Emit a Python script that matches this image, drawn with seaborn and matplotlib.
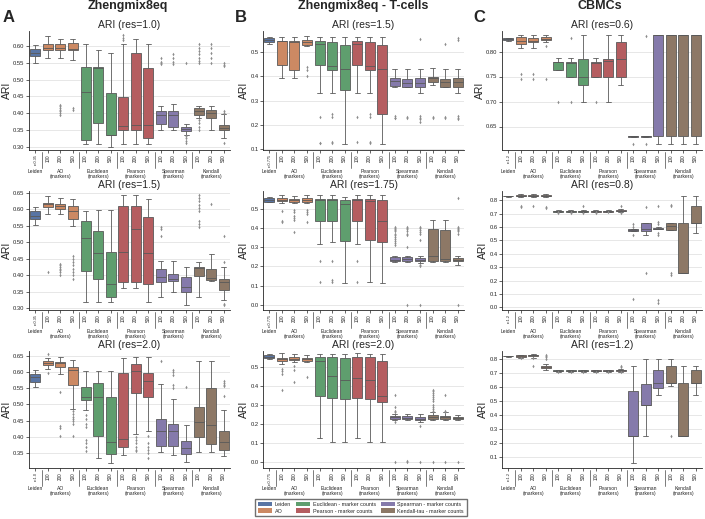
import matplotlib
matplotlib.use('Agg')
import matplotlib.pyplot as plt
from matplotlib.patches import Patch
from matplotlib.ticker import MultipleLocator
import seaborn as sns
import pandas as pd

# box order inside each panel
methods = ['Leiden', 'AO', 'Euclidean', 'Pearson', 'Spearman', 'Kendall']
sizes = ['100', '200', '500']
group_labels = ['Leiden', 'AO\n(markers)', 'Euclidean\n(markers)', 'Pearson\n(markers)',
                'Spearman\n(markers)', 'Kendall\n(markers)']
legend_labels = ['Leiden', 'AO', 'Euclidean - marker counts', 'Pearson - marker counts',
                 'Spearman - marker counts', 'Kendall-tau - marker counts']

# each row: [whisker low, q1, median, q3, whisker high]
# ---- Zhengmix8eq, res=1.0
A1_box = [[0.550, 0.570, 0.578, 0.590, 0.603],
          [0.563, 0.587, 0.595, 0.607, 0.630],
          [0.565, 0.587, 0.595, 0.605, 0.620],
          [0.558, 0.587, 0.592, 0.610, 0.620],
          [0.308, 0.320, 0.464, 0.538, 0.605],
          [0.308, 0.371, 0.535, 0.538, 0.589],
          [0.300, 0.335, 0.336, 0.459, 0.578],
          [0.308, 0.350, 0.361, 0.449, 0.605],
          [0.308, 0.351, 0.366, 0.578, 0.620],
          [0.308, 0.327, 0.366, 0.535, 0.605],
          [0.351, 0.368, 0.394, 0.406, 0.421],
          [0.351, 0.360, 0.394, 0.406, 0.426],
          [0.336, 0.347, 0.353, 0.360, 0.368],
          [0.384, 0.394, 0.406, 0.416, 0.421],
          [0.350, 0.384, 0.401, 0.409, 0.421],
          [0.327, 0.351, 0.356, 0.366, 0.397]]
A1_out = [[], [], [0.395, 0.40, 0.405, 0.41, 0.415, 0.42, 0.425], [0.415, 0.41],
          [], [], [], [0.632, 0.625, 0.617], [], [],
          [0.565, 0.553, 0.549, 0.546], [0.575, 0.565, 0.553, 0.548],
          [0.55, 0.333, 0.325, 0.318, 0.31],
          [0.605, 0.595, 0.585, 0.575, 0.565, 0.555, 0.55, 0.38, 0.37, 0.36, 0.35],
          [0.605, 0.595, 0.58, 0.565, 0.55],
          [0.55, 0.545, 0.54, 0.405, 0.40, 0.311]]

# ---- Zhengmix8eq, res=1.5
A2_box = [[0.554, 0.571, 0.581, 0.594, 0.606],
          [0.586, 0.606, 0.616, 0.620, 0.641],
          [0.586, 0.600, 0.610, 0.616, 0.636],
          [0.551, 0.571, 0.594, 0.610, 0.633],
          [0.319, 0.413, 0.513, 0.564, 0.596],
          [0.319, 0.390, 0.468, 0.536, 0.598],
          [0.319, 0.334, 0.373, 0.470, 0.598],
          [0.361, 0.380, 0.472, 0.611, 0.644],
          [0.361, 0.380, 0.540, 0.611, 0.644],
          [0.319, 0.375, 0.469, 0.576, 0.633],
          [0.334, 0.380, 0.395, 0.420, 0.445],
          [0.351, 0.383, 0.390, 0.405, 0.443],
          [0.311, 0.350, 0.365, 0.395, 0.425],
          [0.334, 0.397, 0.422, 0.425, 0.442],
          [0.382, 0.387, 0.393, 0.420, 0.465],
          [0.324, 0.357, 0.380, 0.388, 0.425]]
A2_out = [[], [0.41], [0.435, 0.43, 0.425, 0.42, 0.415, 0.41, 0.40],
          [0.46, 0.45, 0.44, 0.43, 0.42, 0.41, 0.40, 0.39],
          [], [], [], [], [], [],
          [0.546, 0.541, 0.518], [], [],
          [0.644, 0.635, 0.625, 0.615, 0.605, 0.595, 0.565, 0.555, 0.548],
          [0.618], [0.518, 0.442, 0.314, 0.309]]

# ---- Zhengmix8eq, res=2.0
A3_box = [[0.553, 0.570, 0.583, 0.593, 0.605],
          [0.608, 0.620, 0.627, 0.632, 0.642],
          [0.593, 0.615, 0.627, 0.631, 0.646],
          [0.486, 0.560, 0.605, 0.615, 0.636],
          [0.481, 0.513, 0.523, 0.552, 0.603],
          [0.335, 0.404, 0.523, 0.567, 0.603],
          [0.319, 0.348, 0.384, 0.523, 0.603],
          [0.343, 0.368, 0.394, 0.596, 0.641],
          [0.409, 0.534, 0.603, 0.623, 0.646],
          [0.419, 0.521, 0.572, 0.595, 0.646],
          [0.353, 0.373, 0.419, 0.455, 0.562],
          [0.345, 0.373, 0.419, 0.440, 0.516],
          [0.324, 0.348, 0.365, 0.386, 0.437],
          [0.353, 0.399, 0.447, 0.493, 0.634],
          [0.353, 0.379, 0.437, 0.549, 0.634],
          [0.340, 0.360, 0.384, 0.419, 0.481]]
A3_out = [[], [0.656, 0.595], [0.537, 0.432, 0.428, 0.404],
          [0.48, 0.47, 0.46, 0.455, 0.45, 0.44, 0.404],
          [0.467, 0.455, 0.44, 0.43, 0.39, 0.38, 0.37, 0.355],
          [], [], [], [0.40, 0.39, 0.38, 0.37, 0.36, 0.355],
          [0.404, 0.38, 0.37, 0.36, 0.35, 0.335],
          [0.632], [0.606, 0.60, 0.59, 0.56, 0.55], [0.554],
          [], [], [0.572, 0.565, 0.56, 0.555, 0.527]]

# ---- Zhengmix8eq - T-cells, res=1.5
B1_box = [[0.534, 0.543, 0.551, 0.561, 0.564],
          [0.395, 0.446, 0.545, 0.547, 0.564],
          [0.393, 0.426, 0.541, 0.547, 0.564],
          [0.527, 0.531, 0.543, 0.550, 0.568],
          [0.331, 0.446, 0.534, 0.545, 0.564],
          [0.331, 0.428, 0.443, 0.541, 0.564],
          [0.119, 0.345, 0.432, 0.531, 0.564],
          [0.331, 0.446, 0.534, 0.545, 0.564],
          [0.331, 0.426, 0.443, 0.541, 0.564],
          [0.119, 0.245, 0.432, 0.531, 0.564],
          [0.355, 0.361, 0.381, 0.392, 0.432],
          [0.355, 0.355, 0.374, 0.388, 0.432],
          [0.331, 0.355, 0.372, 0.392, 0.432],
          [0.365, 0.376, 0.392, 0.399, 0.435],
          [0.355, 0.355, 0.378, 0.388, 0.432],
          [0.331, 0.355, 0.378, 0.392, 0.432]]
B1_out = [[], [], [], [0.44, 0.426, 0.403],
          [0.23, 0.126, 0.122], [0.243, 0.23, 0.128, 0.122], [],
          [0.23, 0.128], [0.243, 0.23, 0.128, 0.122], [],
          [0.234, 0.228, 0.226], [0.232, 0.226],
          [0.554, 0.234, 0.228, 0.222, 0.212],
          [0.232, 0.226], [0.536, 0.232, 0.226],
          [0.558, 0.55, 0.234, 0.228, 0.222]]

# ---- Zhengmix8eq - T-cells, res=1.75
B2_box = [[0.533, 0.536, 0.546, 0.557, 0.560],
          [0.531, 0.540, 0.546, 0.553, 0.569],
          [0.527, 0.536, 0.543, 0.552, 0.565],
          [0.527, 0.536, 0.543, 0.553, 0.569],
          [0.318, 0.436, 0.543, 0.548, 0.569],
          [0.328, 0.433, 0.543, 0.548, 0.569],
          [0.113, 0.330, 0.521, 0.545, 0.562],
          [0.318, 0.436, 0.543, 0.548, 0.569],
          [0.117, 0.338, 0.540, 0.548, 0.569],
          [0.113, 0.325, 0.436, 0.545, 0.569],
          [0.222, 0.227, 0.235, 0.247, 0.256],
          [0.222, 0.225, 0.237, 0.247, 0.256],
          [0.216, 0.227, 0.235, 0.242, 0.252],
          [0.222, 0.225, 0.251, 0.392, 0.440],
          [0.222, 0.225, 0.237, 0.388, 0.440],
          [0.209, 0.225, 0.235, 0.244, 0.256]]
B2_out = [[], [0.488, 0.436, 0.428], [0.49, 0.48, 0.46, 0.45, 0.44, 0.376],
          [0.49, 0.48, 0.47, 0.43],
          [0.23, 0.117], [0.23, 0.127, 0.117], [], [0.23, 0.117], [], [],
          [0.405, 0.40, 0.395, 0.39, 0.385, 0.37, 0.36, 0.35, 0.34, 0.33, 0.32, 0.31],
          [0.405, 0.40, 0.395, 0.385, 0.37, 0.36, 0.302, 0.0],
          [0.405, 0.40, 0.39, 0.38, 0.37, 0.334, 0.205, 0.20, 0.0],
          [], [], [0.557, 0.405, 0.40, 0.395, 0.39, 0.385, 0.37, 0.0]]

# ---- Zhengmix8eq - T-cells, res=2.0
B3_box = [[0.538, 0.543, 0.552, 0.560, 0.565],
          [0.512, 0.529, 0.538, 0.546, 0.569],
          [0.521, 0.533, 0.541, 0.550, 0.564],
          [0.521, 0.529, 0.538, 0.546, 0.560],
          [0.125, 0.344, 0.529, 0.550, 0.567],
          [0.108, 0.335, 0.448, 0.550, 0.564],
          [0.108, 0.328, 0.430, 0.543, 0.564],
          [0.125, 0.335, 0.440, 0.550, 0.569],
          [0.108, 0.332, 0.430, 0.550, 0.564],
          [0.108, 0.314, 0.345, 0.529, 0.564],
          [0.220, 0.225, 0.234, 0.242, 0.254],
          [0.220, 0.225, 0.232, 0.240, 0.250],
          [0.211, 0.220, 0.227, 0.237, 0.250],
          [0.220, 0.225, 0.237, 0.246, 0.263],
          [0.220, 0.225, 0.234, 0.242, 0.263],
          [0.220, 0.225, 0.232, 0.237, 0.246]]
B3_out = [[], [0.486, 0.474, 0.46, 0.375], [0.503, 0.48, 0.418], [0.447],
          [], [], [], [], [], [],
          [0.349, 0.289, 0.268, 0.26, 0.211, 0.0], [0.005, 0.0], [0.189, 0.0],
          [0.375, 0.37, 0.36, 0.35, 0.34, 0.33, 0.32, 0.30, 0.29, 0.28, 0.27, 0.0],
          [0.349, 0.27, 0.26, 0.0], [0.0]]

# ---- CBMCs, res=0.6
C1_box = [[0.821, 0.824, 0.826, 0.827, 0.828],
          [0.808, 0.816, 0.821, 0.829, 0.834],
          [0.808, 0.819, 0.822, 0.828, 0.834],
          [0.819, 0.823, 0.826, 0.830, 0.834],
          [0.764, 0.764, 0.780, 0.780, 0.787],
          [0.750, 0.750, 0.778, 0.780, 0.787],
          [0.700, 0.734, 0.750, 0.785, 0.834],
          [0.750, 0.750, 0.778, 0.780, 0.787],
          [0.700, 0.750, 0.781, 0.785, 0.834],
          [0.734, 0.750, 0.785, 0.819, 0.834],
          [0.630, 0.630, 0.631, 0.632, 0.632],
          [0.630, 0.630, 0.631, 0.632, 0.632],
          [0.615, 0.632, 0.834, 0.834, 0.834],
          [0.615, 0.632, 0.834, 0.834, 0.834],
          [0.615, 0.632, 0.834, 0.834, 0.834],
          [0.616, 0.632, 0.834, 0.834, 0.834]]
C1_out = [[], [0.755, 0.745], [0.755, 0.745], [0.811, 0.745],
          [0.70], [0.827, 0.70], [], [0.70], [], [],
          [0.615], [0.832, 0.615], [], [], [], []]

# ---- CBMCs, res=0.8
C2_box = [[0.826, 0.827, 0.828, 0.830, 0.831],
          [0.820, 0.827, 0.831, 0.836, 0.844],
          [0.820, 0.827, 0.831, 0.836, 0.844],
          [0.820, 0.827, 0.831, 0.836, 0.844],
          [0.712, 0.715, 0.720, 0.722, 0.726],
          [0.712, 0.715, 0.720, 0.722, 0.726],
          [0.712, 0.715, 0.720, 0.722, 0.726],
          [0.712, 0.715, 0.720, 0.722, 0.726],
          [0.712, 0.715, 0.720, 0.722, 0.726],
          [0.712, 0.717, 0.722, 0.727, 0.730],
          [0.571, 0.571, 0.576, 0.583, 0.583],
          [0.540, 0.571, 0.583, 0.630, 0.630],
          [0.583, 0.583, 0.588, 0.593, 0.600],
          [0.576, 0.576, 0.608, 0.630, 0.630],
          [0.255, 0.255, 0.255, 0.630, 0.827],
          [0.552, 0.630, 0.630, 0.754, 0.827]]
C2_out = [[], [0.758, 0.746], [0.758], [0.751, 0.742],
          [0.708, 0.703], [0.708, 0.703], [0.758, 0.705], [0.708, 0.703], [0.708],
          [0.758, 0.705],
          [0.625, 0.60, 0.54, 0.065], [0.75, 0.255],
          [0.758, 0.637, 0.625, 0.557, 0.54, 0.053, 0.033],
          [0.766, 0.754, 0.255, 0.243], [], []]

# ---- CBMCs, res=1.2
C3_box = [[0.818, 0.819, 0.821, 0.823, 0.824],
          [0.807, 0.812, 0.821, 0.828, 0.832],
          [0.807, 0.821, 0.826, 0.830, 0.835],
          [0.719, 0.735, 0.742, 0.749, 0.765],
          [0.709, 0.712, 0.716, 0.721, 0.724],
          [0.709, 0.712, 0.716, 0.721, 0.724],
          [0.709, 0.712, 0.716, 0.721, 0.724],
          [0.709, 0.712, 0.716, 0.721, 0.724],
          [0.709, 0.712, 0.716, 0.721, 0.724],
          [0.711, 0.714, 0.719, 0.723, 0.726],
          [0.060, 0.247, 0.247, 0.572, 0.753],
          [0.247, 0.470, 0.475, 0.619, 0.800],
          [0.544, 0.591, 0.626, 0.719, 0.800],
          [0.609, 0.626, 0.630, 0.753, 0.800],
          [0.247, 0.247, 0.247, 0.626, 0.753],
          [0.540, 0.626, 0.626, 0.719, 0.753]]
C3_out = [[], [0.805], [0.805, 0.753], [0.828, 0.82, 0.812, 0.80],
          [0.706], [0.706], [0.706], [0.706], [0.706], [0.753, 0.742, 0.706],
          [], [], [], [0.247], [], []]

# (column, row) -> panel settings
panels = [
    (0, 0, A1_box, A1_out, 'r=0.35', 'ARI (res=1.0)', (0.29, 0.645), 0.05),
    (0, 1, A2_box, A2_out, 'r=0.35', 'ARI (res=1.5)', (0.295, 0.656), 0.05),
    (0, 2, A3_box, A3_out, 'r=1.0', 'ARI (res=2.0)', (0.304, 0.664), 0.05),
    (1, 0, B1_box, B1_out, 'r=0.775', 'ARI (res=1.5)', (0.095, 0.588), 0.1),
    (1, 1, B2_box, B2_out, 'r=0.775', 'ARI (res=1.75)', (-0.027, 0.591), 0.1),
    (1, 2, B3_box, B3_out, 'r=0.775', 'ARI (res=2.0)', (-0.03, 0.581), 0.1),
    (2, 0, C1_box, C1_out, 'r=1.2', 'ARI (res=0.6)', (0.603, 0.841), 0.05),
    (2, 1, C2_box, C2_out, 'r=1.2', 'ARI (res=0.8)', (-0.02, 0.868), 0.1),
    (2, 2, C3_box, C3_out, 'r=1.2', 'ARI (res=1.2)', (0.021, 0.858), 0.1),
]

keys = ['Leiden'] + [m + ' ' + s for m in methods[1:] for s in sizes]
deep = sns.color_palette('deep')
pal = {k: deep[methods.index(k.split(' ')[0])] for k in keys}

sns.set_style('ticks')
plt.rcParams['font.family'] = ['Liberation Sans', 'DejaVu Sans']

fig = plt.figure(figsize=(7.05, 5.19), dpi=100)

col_left = [29, 263, 502]
col_width = [201, 201, 200]
row_top = [31, 191, 351]
row_height = [119, 119, 117]

for col, row, boxes, outs, leiden_lab, title, ylim, step in panels:
    x0, w = col_left[col], col_width[col]
    y0, h = row_top[row], row_height[row]
    ax = fig.add_axes([x0 / 705, 1 - (y0 + h) / 519, w / 705, h / 519])

    recs = []
    for k, vals in zip(keys, boxes):
        for v in vals:
            recs.append((k, v))
    df = pd.DataFrame(recs, columns=['box', 'ari'])
    orecs = []
    for k, vals in zip(keys, outs):
        for v in vals:
            orecs.append((k, v))
    odf = pd.DataFrame(orecs, columns=['box', 'ari'])

    ax.grid(True, color='#e3e3e3', linewidth=0.6)
    ax.set_axisbelow(True)
    sns.boxplot(data=df, x='box', y='ari', hue='box', order=keys, hue_order=keys,
                palette=pal, whis=(0, 100), showfliers=False, linewidth=0.6,
                linecolor='0.35', width=0.8, legend=False, ax=ax)
    if len(odf):
        sns.stripplot(data=odf, x='box', y='ari', order=keys, jitter=False,
                      color='0.55', marker='d', size=1.8, linewidth=0, ax=ax)

    ax.set_xlim(-0.5, 15.5)
    ax.set_ylim(*ylim)
    ax.yaxis.set_major_locator(MultipleLocator(step))
    ax.set_xticks(range(16))
    ax.set_xticklabels([leiden_lab] + sizes * 5, rotation=90, fontsize=3.3)
    ax.get_xticklabels()[0].set_fontsize(2.8)
    ax.tick_params(axis='y', labelsize=4.2, length=2, width=0.5, pad=1.2)
    ax.tick_params(axis='x', length=2, width=0.5, pad=1.0)
    ax.set_xlabel('')
    ax.set_ylabel('ARI', fontsize=7.5, labelpad=1)
    ax.set_title(title, fontsize=7.5, pad=2)
    for sp in ['left', 'bottom']:
        ax.spines[sp].set_linewidth(0.6)
    sns.despine(ax=ax)

    # group separators and group names under the ticks
    tr = ax.get_xaxis_transform()
    for b in [0.5, 3.5, 6.5, 9.5, 12.5]:
        ax.plot([b, b], [-0.02, -0.15], transform=tr, color='0.4', lw=0.6, clip_on=False)
    for c, lab in zip([0, 2, 5, 8, 11, 14], group_labels):
        ax.text(c, -0.158, lab, transform=tr, ha='center', va='top', fontsize=3.6,
                linespacing=0.95)

# column titles and panel letters
for x, t in zip([128, 363, 600], ['Zhengmix8eq', 'Zhengmix8eq - T-cells', 'CBMCs']):
    fig.text(x / 705, 1 - 6 / 519, t, ha='center', va='center', fontsize=9, fontweight='bold')
for x, t in zip([9, 241, 479], ['A', 'B', 'C']):
    fig.text(x / 705, 1 - 17 / 519, t, ha='center', va='center', fontsize=12, fontweight='bold')

handles = [Patch(facecolor=sns.desaturate(deep[i], 0.75), edgecolor='none') for i in range(6)]
fig.legend(handles, legend_labels, loc='lower center', bbox_to_anchor=(0.512, 0.0), ncol=3,
           fontsize=3.9, frameon=True, fancybox=False, edgecolor='0.3', handlelength=2.6,
           handleheight=0.9, handletextpad=0.5, columnspacing=0.9, borderpad=0.5,
           labelspacing=0.25)

fig.savefig('out.png', dpi=100)
